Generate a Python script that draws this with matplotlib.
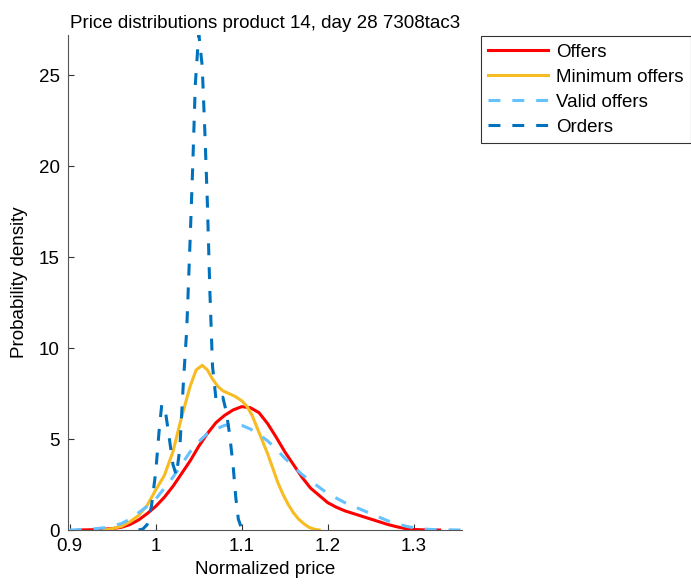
import matplotlib.pyplot as plt

plt.rcParams['font.family'] = ['Liberation Sans', 'DejaVu Sans']

# Offers (red)
offers_x = [0.91, 0.93, 0.95, 0.96, 0.97, 0.98, 0.99, 1.0, 1.01, 1.02, 1.03, 1.04, 1.05, 1.06,
            1.07, 1.08, 1.09, 1.1, 1.11, 1.12, 1.13, 1.14, 1.15, 1.16, 1.17, 1.18, 1.19,
            1.2, 1.21, 1.22, 1.23, 1.24, 1.25, 1.26, 1.27, 1.28, 1.29, 1.3, 1.31, 1.33]
offers_y = [0.0, 0.02, 0.08, 0.15, 0.3, 0.55, 0.9, 1.3, 1.8, 2.4, 3.1, 3.8, 4.6, 5.3,
            5.9, 6.3, 6.6, 6.78, 6.72, 6.45, 5.85, 5.1, 4.3, 3.6, 2.9, 2.3, 1.9,
            1.5, 1.25, 1.05, 0.9, 0.75, 0.6, 0.45, 0.3, 0.18, 0.08, 0.03, 0.01, 0.0]

# Minimum offers (yellow)
min_x = [0.94, 0.95, 0.96, 0.97, 0.98, 0.99, 1.0, 1.01, 1.02, 1.03, 1.04, 1.047, 1.054,
         1.06, 1.066, 1.072, 1.078, 1.085, 1.092, 1.1, 1.106, 1.112, 1.118, 1.124,
         1.13, 1.136, 1.142, 1.148, 1.154, 1.16, 1.166, 1.172, 1.178, 1.184, 1.19]
min_y = [0.0, 0.08, 0.2, 0.45, 0.8, 1.35, 2.2, 3.0, 4.3, 6.2, 7.9, 8.8, 9.05,
         8.8, 8.3, 7.9, 7.65, 7.5, 7.35, 7.1, 6.8, 6.3, 5.6, 4.9,
         4.2, 3.4, 2.6, 1.95, 1.4, 0.95, 0.6, 0.35, 0.15, 0.05, 0.0]

# Valid offers (light blue dashed)
valid_x = [0.9, 0.92, 0.94, 0.96, 0.97, 0.98, 0.99, 1.0, 1.01, 1.02, 1.03, 1.04, 1.05, 1.06,
           1.07, 1.08, 1.09, 1.1, 1.11, 1.12, 1.13, 1.14, 1.15, 1.16, 1.17, 1.18, 1.19,
           1.2, 1.21, 1.22, 1.23, 1.24, 1.25, 1.26, 1.27, 1.28, 1.29, 1.3, 1.31, 1.32,
           1.34, 1.355]
valid_y = [0.0, 0.03, 0.12, 0.35, 0.6, 0.95, 1.3, 1.7, 2.3, 2.9, 3.6, 4.3, 4.85, 5.3,
           5.55, 5.75, 5.8, 5.75, 5.55, 5.25, 4.9, 4.45, 3.95, 3.5, 3.05, 2.7, 2.35,
           2.0, 1.75, 1.5, 1.3, 1.1, 0.9, 0.7, 0.5, 0.35, 0.22, 0.12, 0.06, 0.03,
           0.01, 0.0]

# Orders (dark blue dashed)
orders_x = [0.98, 0.985, 0.99, 0.995, 1.0, 1.004, 1.007, 1.011, 1.015, 1.02, 1.024,
            1.028, 1.032, 1.036, 1.04, 1.043, 1.046, 1.05, 1.054, 1.057, 1.06, 1.063,
            1.066, 1.07, 1.074, 1.078, 1.082, 1.086, 1.09, 1.093, 1.096, 1.1, 1.105]
orders_y = [0.0, 0.05, 0.3, 1.3, 3.2, 5.5, 6.9, 6.6, 5.3, 3.6, 3.0,
            4.5, 8.0, 11.0, 16.0, 20.0, 24.5, 27.3, 25.5, 22.0, 18.0, 13.0,
            9.0, 7.2, 7.0, 7.3, 6.5, 5.2, 3.5, 1.8, 0.6, 0.05, 0.0]

fig = plt.figure(figsize=(6.91, 5.85), dpi=100)
ax = fig.add_axes([0.0984, 0.094, 0.5702, 0.846])

lw = 2.2
fs = 13.5
ax.plot(offers_x, offers_y, color='#FF0000', lw=lw, label='Offers')
ax.plot(min_x, min_y, color='#F7BC22', lw=lw, label='Minimum offers')
ax.plot(valid_x, valid_y, color='#66C2FF', lw=lw, dashes=(3.9, 3.9), label='Valid offers')
ax.plot(orders_x, orders_y, color='#0072BD', lw=lw, dashes=(3.9, 3.9), label='Orders')

ax.set_xlim(0.898, 1.356)
ax.set_ylim(0, 27.2)
ax.set_xticks([0.9, 1.0, 1.1, 1.2, 1.3])
ax.set_xticklabels(['0.9', '1', '1.1', '1.2', '1.3'])
ax.set_yticks([0, 5, 10, 15, 20, 25])
ax.tick_params(direction='in', labelsize=fs, length=4, width=0.8, colors='#333333',
               labelcolor='black', pad=6)
ax.spines['top'].set_visible(False)
ax.spines['right'].set_visible(False)
for s in ['left', 'bottom']:
    ax.spines[s].set_color('#555555')
    ax.spines[s].set_linewidth(0.8)

ax.set_xlabel('Normalized price', fontsize=fs, labelpad=4)
ax.set_ylabel('Probability density', fontsize=fs, labelpad=8)
ax.set_title('Price distributions product 14, day 28 7308tac3', fontsize=fs, pad=5)

leg = ax.legend(loc='upper left', bbox_to_anchor=(0.696, 0.938),
                bbox_transform=fig.transFigure, fontsize=fs, handlelength=3.2,
                frameon=True, fancybox=False, borderpad=0.4, labelspacing=0.42,
                handletextpad=0.4, borderaxespad=0)
leg.get_frame().set_edgecolor('black')
leg.get_frame().set_linewidth(0.8)

fig.savefig('out.png', dpi=100)
